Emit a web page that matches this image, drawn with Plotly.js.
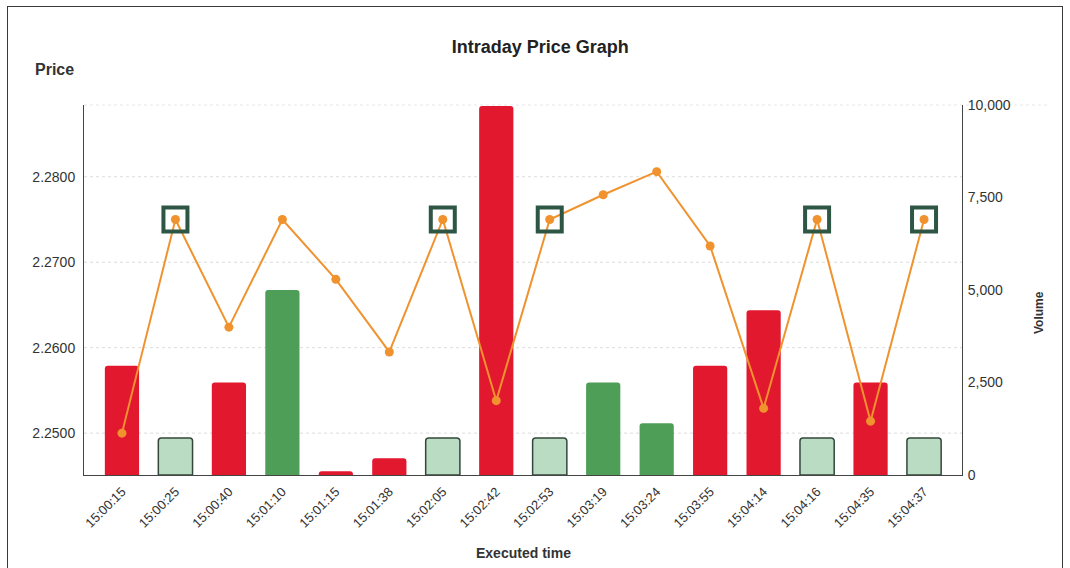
<!DOCTYPE html>
<html>
<head>
<meta charset="utf-8">
<script src="https://cdn.plot.ly/plotly-3.0.1.min.js"></script>
<style>
html,body{margin:0;padding:0;background:#fff;}
#frame{position:absolute;left:7px;top:6px;width:1056px;height:600px;border:1.5px solid #3a3a3a;box-sizing:border-box;}
#chart{position:absolute;left:0;top:0;width:1070px;height:568px;}
</style>
</head>
<body>
<div id="frame"></div>
<div id="chart"></div>
<script>
const times = ["15:00:15","15:00:25","15:00:40","15:01:10","15:01:15","15:01:38","15:02:05","15:02:42","15:02:53","15:03:19","15:03:24","15:03:55","15:04:14","15:04:16","15:04:35","15:04:37"];
const prices = [2.2500,2.2750,2.2624,2.2750,2.2680,2.2595,2.2750,2.2538,2.2750,2.2779,2.2806,2.2719,2.2529,2.2750,2.2514,2.2750];
const volumes = [2950,1000,2500,5000,100,450,1000,9970,1000,2500,1400,2950,4450,1000,2500,1000];
const direction = ["down","flat","down","up","down","down","flat","down","flat","up","up","down","down","flat","down","flat"];
const priceTicks = [2.2500,2.2600,2.2700,2.2800];
const volumeTicks = [0,2500,5000,7500,10000];

const colorFor = {down:"#e2182f", up:"#4e9e58", flat:"#b9dcc3"};
const lineFor = {down:"#e2182f", up:"#4e9e58", flat:"#34473b"};

const hiX = [], hiY = [];
direction.forEach((d,i)=>{ if(d==="flat"){ hiX.push(times[i]); hiY.push(prices[i]); } });

const bars = {
  type:"bar", x:times, y:volumes, yaxis:"y", xaxis:"x",
  width:0.64,
  marker:{color:direction.map(d=>colorFor[d]), line:{color:direction.map(d=>lineFor[d]), width:direction.map(d=>d==="flat"?1.5:0)}, cornerradius:3},
  hoverinfo:"x+y", showlegend:false
};
const line = {
  type:"scatter", mode:"lines+markers", x:times, y:prices, yaxis:"y2", xaxis:"x",
  line:{color:"#f0922e", width:2},
  marker:{color:"#f0922e", size:9},
  showlegend:false
};
const squares = {
  type:"scatter", mode:"markers", x:hiX, y:hiY, yaxis:"y2", xaxis:"x",
  marker:{symbol:"square-open", size:24, color:"#2e5644", line:{width:4, color:"#2e5644"}},
  showlegend:false, hoverinfo:"skip"
};

const P0 = 2.2451, P1 = 2.2884;
const shapes = priceTicks.map(v=>({type:"line", xref:"paper", x0:0, x1:1, yref:"y2", y0:v, y1:v, layer:"below", line:{color:"#dcdcdc", width:1, dash:"dot"}}));
shapes.push({type:"line", xref:"paper", x0:0, x1:1.1, yref:"paper", y0:1, y1:1, layer:"below", line:{color:"#e8e8e8", width:1, dash:"dot"}});

const font = {family:"Liberation Sans, Arial, sans-serif", size:12, color:"#333"};
const layout = {
  width:1070, height:568,
  margin:{l:84, r:108, t:105, b:93},
  paper_bgcolor:"rgba(0,0,0,0)", plot_bgcolor:"rgba(0,0,0,0)",
  font:font,
  title:{text:"<b>Intraday Price Graph</b>", x:0.505, xanchor:"center", y:0.918, yanchor:"middle", font:{family:"Liberation Sans, Arial, sans-serif", size:18, color:"#222"}},
  xaxis:{type:"category", range:[-0.71, 15.71], tickangle:-45, showline:true, linecolor:"#444", linewidth:1, showgrid:false, ticks:"", ticklabelstandoff:3, tickfont:{size:13, color:"#333"}, zeroline:false},
  yaxis:{side:"right", range:[0,10000], tickvals:volumeTicks, tickformat:",", showline:true, linecolor:"#444", linewidth:1, showgrid:false, zeroline:false, ticks:"", ticklabelstandoff:2, tickfont:{size:14, color:"#333"}},
  yaxis2:{overlaying:"y", side:"left", range:[P0,P1], tickvals:priceTicks, tickformat:".4f", showline:true, linecolor:"#444", linewidth:1, showgrid:false, zeroline:false, ticks:"", ticklabelstandoff:5, tickfont:{size:14, color:"#333"}},
  shapes:shapes,
  annotations:[
    {text:"<b>Price</b>", xref:"paper", yref:"paper", x:-0.034, y:1.095, xanchor:"center", yanchor:"middle", showarrow:false, font:{size:16, color:"#333"}},
    {text:"<b>Volume</b>", xref:"paper", yref:"paper", x:1.0875, y:0.44, xanchor:"center", yanchor:"middle", textangle:-90, showarrow:false, font:{size:12, color:"#333"}},
    {text:"<b>Executed time</b>", xref:"paper", yref:"paper", x:0.5, y:-0.2104, xanchor:"center", yanchor:"middle", showarrow:false, font:{size:14, color:"#333"}}
  ],
  bargap:0.36
};
Plotly.newPlot("chart", [bars, line, squares], layout, {displayModeBar:false, staticPlot:true});
</script>
</body>
</html>
